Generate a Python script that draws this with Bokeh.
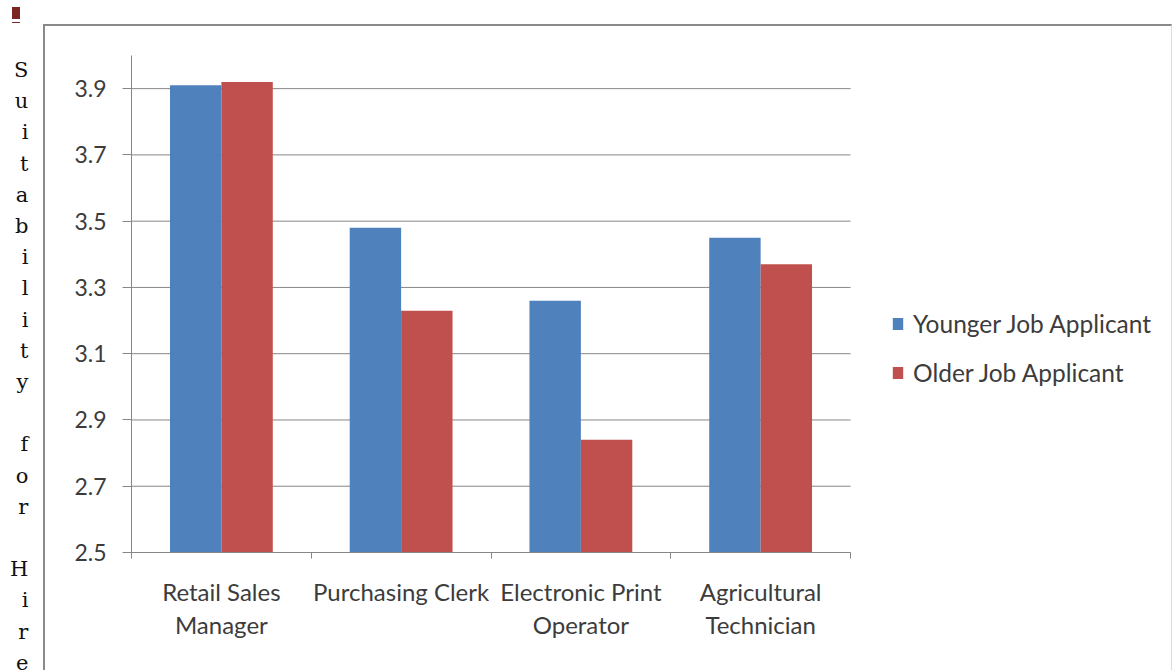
from bokeh.plotting import figure
from bokeh.models import (ColumnDataSource, FixedTicker, Range1d, Legend, LegendItem,
                          InlineStyleSheet)
from bokeh.transform import dodge
from bokeh.embed import file_html
from bokeh.resources import INLINE

# ---- data ----
categories = ["Retail Sales Manager", "Purchasing Clerk", "Electronic Print Operator", "Agricultural Technician"]
category_labels = ["Retail Sales\nManager", "Purchasing Clerk", "Electronic Print\nOperator", "Agricultural\nTechnician"]
younger = [3.91, 3.48, 3.26, 3.45]
older = [3.92, 3.23, 2.84, 3.37]
series_names = ["Younger Job Applicant", "Older Job Applicant"]
y_ticks = [2.5, 2.7, 2.9, 3.1, 3.3, 3.5, 3.7, 3.9]
y_axis_title = "Suitability for Hire"

BLUE = "#4f81bd"
RED = "#c0504d"
GRID = "#868686"
TXT = "#3c3c3c"
FONT = "Lato"

n = len(categories)
# layout: plot area 131..850 px for the n categories; frame extended to the right edge
LEFT, PLOT_RIGHT, W, H = 131, 850, 1175, 670
x_end = n * (W - LEFT) / (PLOT_RIGHT - LEFT)

pos = [i + 0.5 for i in range(n)]
src = ColumnDataSource(dict(x=pos, cat=categories, younger=younger, older=older))
gsrc = ColumnDataSource(dict(y=y_ticks, x0=[0] * len(y_ticks), x1=[n] * len(y_ticks)))

p = figure(width=W, height=H, output_backend="svg", toolbar_location=None,
           x_range=Range1d(0, x_end), y_range=Range1d(2.5, 4.0),
           min_border_left=LEFT, min_border_right=0, min_border_top=55, min_border_bottom=118,
           background_fill_color="white", border_fill_color="white")
p.outline_line_color = None
p.xgrid.visible = False
p.ygrid.visible = False

# horizontal gridlines limited to the category area
p.segment(x0="x0", x1="x1", y0="y", y1="y", source=gsrc, line_color=GRID, line_width=1)

bw = 0.286
r1 = p.vbar(x=dodge("x", -bw / 2), top="younger", bottom=2.5, width=bw, source=src,
            fill_color=BLUE, line_color=None)
r2 = p.vbar(x=dodge("x", bw / 2), top="older", bottom=2.5, width=bw, source=src,
            fill_color=RED, line_color=None)

# y axis
p.yaxis.ticker = FixedTicker(ticks=y_ticks)
p.yaxis.axis_line_color = GRID
p.yaxis.major_tick_line_color = GRID
p.yaxis.major_tick_out = 9
p.yaxis.major_tick_in = 0
p.yaxis.minor_tick_line_color = None
p.yaxis.major_label_text_font = FONT
p.yaxis.major_label_text_font_size = "23px"
p.yaxis.major_label_text_color = TXT
p.yaxis.major_label_standoff = 16

# stacked (letter per line) title as the y axis label
lines = [" " if ch == " " else ch for ch in y_axis_title]
p.yaxis.axis_label = "\n".join([" "] * 4 + lines)
p.yaxis.axis_label_orientation = "horizontal"
p.yaxis.axis_label_text_font = "DejaVu Serif"
p.yaxis.axis_label_text_font_style = "normal"
p.yaxis.axis_label_text_font_size = "21px"
p.yaxis.axis_label_text_color = "#111111"
p.yaxis.axis_label_text_line_height = 1.30
p.yaxis.axis_label_text_align = "center"
p.yaxis.axis_label_standoff = 43

# x axis
p.xaxis.bounds = (0, n)
p.xaxis.ticker = FixedTicker(ticks=pos, minor_ticks=list(range(n + 1)))
p.xaxis.major_label_overrides = {pp: lab for pp, lab in zip(pos, category_labels)}
p.xaxis.axis_line_color = GRID
p.xaxis.major_tick_line_color = None
p.xaxis.major_tick_out = 0
p.xaxis.major_tick_in = 0
p.xaxis.minor_tick_line_color = GRID
p.xaxis.minor_tick_out = 6
p.xaxis.minor_tick_in = 0
p.xaxis.major_label_text_font = FONT
p.xaxis.major_label_text_font_size = "24px"
p.xaxis.major_label_text_color = TXT
p.xaxis.major_label_text_line_height = 1.15
p.xaxis.major_label_standoff = 18

# legend inside the (extended) frame, right of the bars
legend = Legend(items=[LegendItem(label=series_names[0], renderers=[r1]),
                       LegendItem(label=series_names[1], renderers=[r2])],
                location=(760, 165), orientation="vertical",
                glyph_width=13, glyph_height=15, label_height=15, label_standoff=9,
                spacing=20, padding=0, margin=0,
                label_text_font=FONT, label_text_font_size="24.5px", label_text_color=TXT,
                label_text_baseline="alphabetic",
                border_line_color=None, background_fill_alpha=0)
p.add_layout(legend, "center")

# outer chart frame and the small mark at the top-left, drawn as page decoration
p.stylesheets = [InlineStyleSheet(css="""
:host { position: relative; }
:host::after { content: ""; position: absolute; left: 43px; top: 24px; width: 1129px; height: 646px;
  box-sizing: border-box; border-left: 2px solid #8a8a8a; border-top: 2px solid #8a8a8a;
  border-right: 1px solid #dcdcdc; pointer-events: none; z-index: 5; }
:host::before { content: ""; position: absolute; left: 12px; top: 7px; width: 8px; height: 12px;
  background: #7b2525; box-shadow: 0 3px 0 0 #ffffff, 0 4px 0 0 #7b2525; pointer-events: none; z-index: 5; }
""")]

open("out.html", "w").write(file_html(p, INLINE))
